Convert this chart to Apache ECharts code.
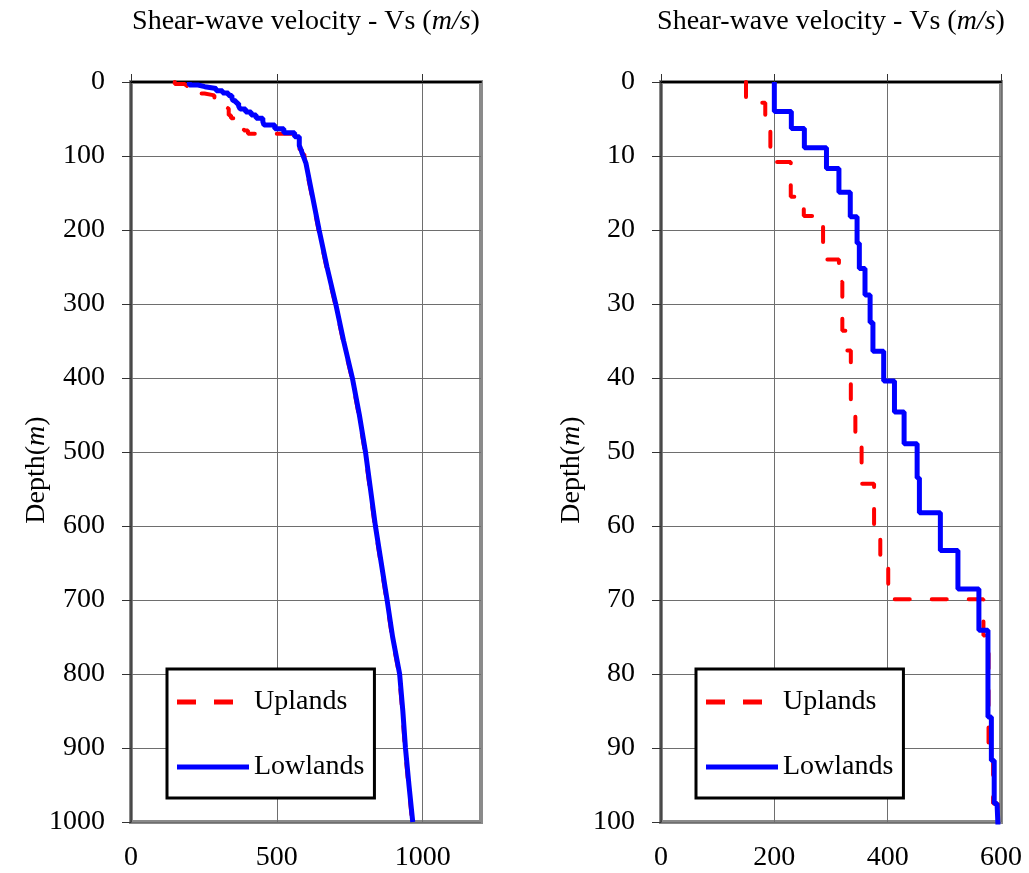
<!DOCTYPE html>
<html>
<head>
<meta charset="utf-8">
<script src="https://cdn.jsdelivr.net/npm/echarts@6/dist/echarts.min.js"></script>
<style>
  html, body { margin: 0; padding: 0; background: #fff; }
  #chart { width: 1029px; height: 873px; }
</style>
</head>
<body>
<div id="chart"></div>
<script>
// Shear-wave velocity profiles (Vs in m/s against depth in m).
// Step changes are written as two rows at the same depth.
const uplandsDepth = [
  0, 2.8, 2.8, 5.5, 5.5, 10.8, 10.8, 15.5, 15.5, 18.1, 18.1, 24, 24, 27, 27, 33.6, 33.6, 36.3, 36.3,
  45, 45, 49, 49, 54.3, 54.3, 61.5, 61.5, 65.5, 65.5, 69.9, 69.9, 74.8, 74.8, 91.7, 91.7, 97.5, 97.5,
  110, 150, 200, 250, 300, 350, 400, 450, 500, 550, 600, 650, 700, 750, 800, 850, 900, 950, 1000
];
const uplandsVs = [
  150, 150, 184, 184, 193, 193, 229, 229, 252, 252, 286, 286, 314, 314, 320, 320, 327, 327, 335,
  335, 343, 343, 354, 354, 376, 376, 387, 387, 401, 401, 569, 569, 578, 578, 586, 586, 594,
  597, 618, 643, 670, 700, 727, 757, 781, 802, 819, 836, 856, 876, 895, 919, 930, 939, 951, 964
];
const lowlandsDepth = [
  0, 4, 4, 6.3, 6.3, 8.9, 8.9, 11.7, 11.7, 14.9, 14.9, 18.2, 18.2, 21.8, 21.8, 25.2, 25.2, 28.8, 28.8,
  32.5, 32.5, 36.4, 36.4, 40.4, 40.4, 44.6, 44.6, 48.9, 48.9, 53.5, 53.5, 58.2, 58.2, 63.3, 63.3,
  68.5, 68.5, 74.1, 74.1, 85.8, 85.8, 91.7, 91.7, 97.5, 97.5,
  110, 150, 200, 250, 300, 350, 400, 450, 500, 550, 600, 650, 700, 750, 800, 850, 900, 950, 1000
];
const lowlandsVs = [
  200, 200, 230, 230, 253, 253, 292, 292, 314, 314, 334, 334, 346, 346, 350, 350, 360, 360, 369,
  369, 374, 374, 393, 393, 412, 412, 429, 429, 452, 452, 456, 456, 493, 493, 524, 524,
  561, 561, 577, 577, 583, 583, 588, 588, 593,
  600, 620, 645, 672, 702, 729, 759, 783, 804, 821, 838, 858, 878, 897, 921, 932, 941, 953, 966
];

// Axis ranges and tick labels of the two panels
const fullDepthMax = 1000, fullDepthStep = 100;
const nearDepthMax = 100, nearDepthStep = 10;
const fullVsMax = 1200, fullVsTicks = [0, 500, 1000];
const nearVsMax = 600, nearVsTicks = [0, 200, 400, 600];

const seriesNames = ['Uplands', 'Lowlands'];
const titleText = '{n|Shear-wave velocity - Vs (}{i|m/s}{n|)}';

const pairs = (vs, depth) => vs.map((v, k) => [v, depth[k]]);
const uplands = pairs(uplandsVs, uplandsDepth);
const lowlands = pairs(lowlandsVs, lowlandsDepth);

const FONT = '"Liberation Serif", "Times New Roman", serif';
const FS = 28;
const rich = {
  n: { fontFamily: FONT, fontSize: FS, color: '#000' },
  i: { fontFamily: FONT, fontSize: FS, color: '#000', fontStyle: 'italic' }
};
const plain = (v) => String(v);

const upStyle = { color: '#ff0000', width: 4, type: [15, 22], cap: 'round' };
const lowStyle = { color: '#0000ff', width: 5, type: 'solid' };

// Legend keys: two dashes for the dashed profile, a bar for the solid one
const dashKey = 'path://M0,0H19V5H0Z M37,0H56V5H37Z M72,0L72,5Z';
const solidKey = 'path://M0,0H72V5H0Z';

function topAxis(gridIndex, max, ticks) {
  return {
    type: 'value', gridIndex, position: 'top', min: 0, max,
    name: titleText, nameLocation: 'middle', nameGap: 46,
    nameTextStyle: { rich },
    axisLine: { show: true, onZero: false, lineStyle: { color: '#000', width: 2 } },
    axisTick: { show: true, inside: false, length: 8, customValues: ticks, lineStyle: { color: '#333', width: 1 } },
    axisLabel: { show: false },
    splitLine: { show: true, lineStyle: { color: '#6e6e6e', width: 1 } }
  };
}
function bottomAxis(gridIndex, max, ticks) {
  return {
    type: 'value', gridIndex, position: 'bottom', min: 0, max,
    axisLine: { show: false }, axisTick: { show: false }, splitLine: { show: false },
    axisLabel: { show: true, customValues: ticks, formatter: plain, margin: 22, fontFamily: FONT, fontSize: FS, color: '#000' }
  };
}
function depthAxis(gridIndex, max, step) {
  return {
    type: 'value', gridIndex, inverse: true, min: 0, max, interval: step,
    axisLine: { show: true, onZero: false, lineStyle: { color: '#3a3a3a', width: 1.5 } },
    axisTick: { show: true, inside: false, length: 9, lineStyle: { color: '#333', width: 1 } },
    axisLabel: { margin: 26, formatter: plain, fontFamily: FONT, fontSize: FS, color: '#000' },
    splitLine: { show: true, lineStyle: { color: '#6e6e6e', width: 1 } }
  };
}
function profile(name, data, xi, yi) {
  const up = name === 'Uplands';
  return {
    type: 'line', name, data, xAxisIndex: xi, yAxisIndex: yi,
    symbol: 'none', showSymbol: false, clip: true, z: up ? 2 : 3,
    lineStyle: up ? upStyle : lowStyle,
    itemStyle: { color: up ? '#ff0000' : '#0000ff' }
  };
}
function legendBox(left) {
  return {
    data: [
      { name: seriesNames[0], icon: dashKey },
      { name: seriesNames[1], icon: solidKey }
    ],
    orient: 'vertical', left, top: 669,
    itemWidth: 72, itemHeight: 5, itemGap: 35, symbolKeepAspect: false,
    padding: [18, 10, 16, 10],
    backgroundColor: '#fff', borderColor: '#000', borderWidth: 3,
    textStyle: { fontFamily: FONT, fontSize: FS, color: '#000', lineHeight: 30 },
    selectedMode: false
  };
}

const depthLabel = (x) => ({
  type: 'text', x, y: 470, rotation: Math.PI / 2,
  style: {
    text: '{n|Depth(}{i|m}{n|)}', rich, align: 'center', verticalAlign: 'middle'
  }
});

const gridBase = { top: 82, height: 740, show: true, borderColor: '#8a8a8a', borderWidth: 4, backgroundColor: 'transparent', containLabel: false, outerBoundsMode: 'none' };

const chart = echarts.init(document.getElementById('chart'), null, { renderer: 'canvas' });
chart.setOption({
  animation: false,
  backgroundColor: '#fff',
  grid: [
    Object.assign({ left: 131, width: 350 }, gridBase),
    Object.assign({ left: 661, width: 340 }, gridBase)
  ],
  xAxis: [
    topAxis(0, fullVsMax, fullVsTicks),
    bottomAxis(0, fullVsMax, fullVsTicks),
    topAxis(1, nearVsMax, nearVsTicks),
    bottomAxis(1, nearVsMax, nearVsTicks)
  ],
  yAxis: [
    depthAxis(0, fullDepthMax, fullDepthStep),
    depthAxis(1, nearDepthMax, nearDepthStep)
  ],
  legend: [legendBox(167), legendBox(696)],
  series: [
    profile('Uplands', uplands, 0, 0),
    profile('Lowlands', lowlands, 0, 0),
    profile('Uplands', uplands, 2, 1),
    profile('Lowlands', lowlands, 2, 1)
  ],
  graphic: [depthLabel(37), depthLabel(572)]
});
</script>
</body>
</html>
